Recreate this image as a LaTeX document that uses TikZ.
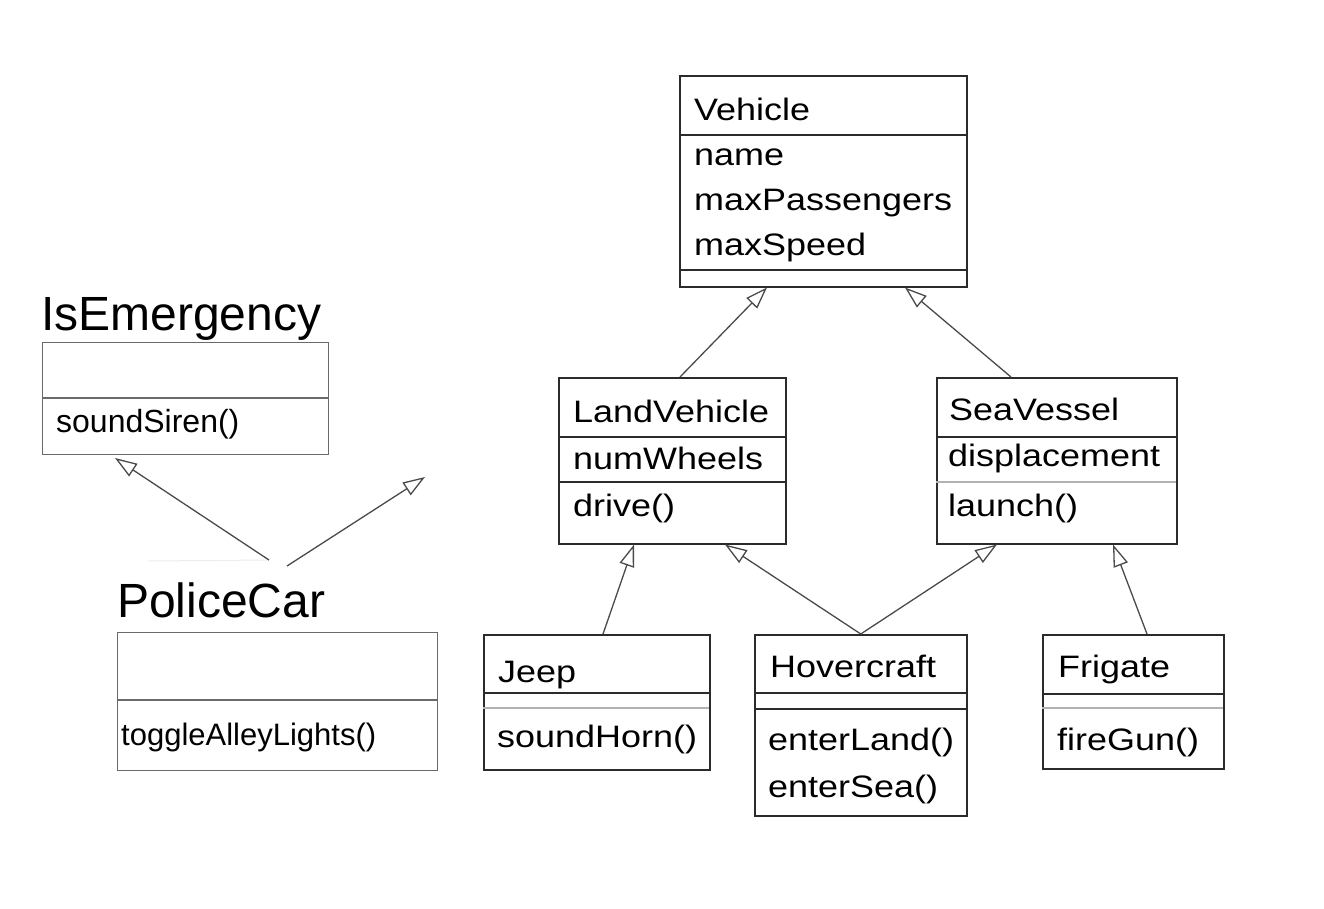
\documentclass[tikz,border=0pt]{standalone}
\usepackage{fontspec}
\setmainfont{Liberation Sans}
\newfontfamily\winfont{Liberation Sans}[FakeStretch=1.16]
\usetikzlibrary{arrows.meta}
\definecolor{boxline}{HTML}{2B2B2B}
\definecolor{macline}{HTML}{6A6A6A}
\definecolor{genline}{HTML}{4A4A4A}
\tikzset{
  cls/.style={draw=boxline, line width=1.5pt, anchor=north west, inner sep=0pt},
  iface/.style={draw=macline, line width=1.1pt, anchor=north west, inner sep=0pt},
  sepline/.style={draw=boxline, line width=1.5pt},
  lightsep/.style={draw=gray!60, line width=1.5pt},
  txt/.style={anchor=base west, inner sep=0pt, font=\winfont\fontsize{31}{37}\selectfont},
  mactxt/.style={anchor=base west, inner sep=0pt, font=\fontsize{31}{37}\selectfont},
  bigtxt/.style={anchor=base west, inner sep=0pt, font=\fontsize{48}{56}\selectfont},
  gen/.style={draw=genline, line width=1.3pt, -{Triangle[open, length=22pt, width=15pt, fill=white]}},
}
\begin{document}
\begin{tikzpicture}[x=1pt, y=-1pt]
\useasboundingbox (0,0) rectangle (1324,908);
% left side
\node[bigtxt] (emTitle) at (41,330) {IsEmergency};
\node[iface, minimum width=286pt, minimum height=112pt] (emergency) at (42,342) {};
\draw[macline, line width=1.1pt] (42,398) -- (328,398);
\node[mactxt, font=\fontsize{32}{38}\selectfont] (emSiren) at (56,432) {soundSiren()};
\node[bigtxt] (pcTitle) at (117,617) {PoliceCar};
\node[iface, minimum width=320pt, minimum height=138pt] (police) at (117,632) {};
\draw[macline, line width=1.1pt] (117,700) -- (437,700);
\node[mactxt] (pcLights) at (121,745) {toggleAlleyLights()};
\coordinate (pcTailL) at (269,560);
\coordinate (pcTipL) at (115,458);
\coordinate (pcTailR) at (287,566);
\coordinate (pcTipR) at (425,477);
\coordinate (pcEdgeA) at (148,561);
\draw[gray!15, line width=1pt] (pcEdgeA) -- (pcTailL);
\draw[gen] (pcTailL) -- (pcTipL);
\draw[gen] (pcTailR) -- (pcTipR);
% Vehicle
\node[cls, minimum width=287pt, minimum height=211pt] (vehicle) at (679,75) {};
\draw[sepline] (679,135) -- (966,135);
\draw[sepline] (679,270) -- (966,270);
\node[txt] (vhName) at (694,120) {Vehicle};
\node[txt] (vhA1) at (694,165) {name};
\node[txt] (vhA2) at (694,210) {maxPassengers};
\node[txt] (vhA3) at (694,255) {maxSpeed};
% LandVehicle
\node[cls, minimum width=227pt, minimum height=166pt] (land) at (558,377) {};
\draw[sepline] (558,437) -- (785,437);
\draw[sepline] (558,482) -- (785,482);
\node[txt] (lvName) at (573,422) {LandVehicle};
\node[txt] (lvA1) at (573,469) {numWheels};
\node[txt] (lvM1) at (573,516) {drive()};
% SeaVessel
\node[cls, minimum width=240pt, minimum height=166pt] (sea) at (936,377) {};
\draw[sepline] (936,437) -- (1176,437);
\draw[lightsep] (936,482) -- (1176,482);
\node[txt] (svName) at (949,420) {SeaVessel};
\node[txt] (svA1) at (948,466) {displacement};
\node[txt] (svM1) at (948,516) {launch()};
% Jeep
\node[cls, minimum width=226pt, minimum height=135pt] (jeep) at (483,634) {};
\draw[sepline] (483,693) -- (709,693);
\draw[lightsep] (483,708) -- (709,708);
\node[txt] (jpName) at (498,682) {Jeep};
\node[txt] (jpM1) at (497,747) {soundHorn()};
% Hovercraft
\node[cls, minimum width=212pt, minimum height=181pt] (hover) at (754,634) {};
\draw[sepline] (754,693) -- (966,693);
\draw[sepline] (754,709) -- (966,709);
\node[txt] (hcName) at (770,677) {Hovercraft};
\node[txt] (hcM1) at (768,750) {enterLand()};
\node[txt] (hcM2) at (768,797) {enterSea()};
% Frigate
\node[cls, minimum width=181pt, minimum height=134pt] (frigate) at (1042,634) {};
\draw[sepline] (1042,694) -- (1223,694);
\draw[lightsep] (1042,708) -- (1223,708);
\node[txt] (fgName) at (1058,677) {Frigate};
\node[txt] (fgM1) at (1057,750) {fireGun()};
% generalisations
\draw[gen] ([xshift=122pt]land.north west) -- ([xshift=88pt]vehicle.south west);
\draw[gen] ([xshift=75pt]sea.north west) -- ([xshift=226pt]vehicle.south west);
\draw[gen] ([xshift=120pt]jeep.north west) -- ([xshift=76pt]land.south west);
\draw[gen] (hover.north) -- ([xshift=167pt]land.south west);
\draw[gen] (hover.north) -- ([xshift=61pt]sea.south west);
\draw[gen] ([xshift=105pt]frigate.north west) -- ([xshift=177pt]sea.south west);
\end{tikzpicture}
\end{document}
